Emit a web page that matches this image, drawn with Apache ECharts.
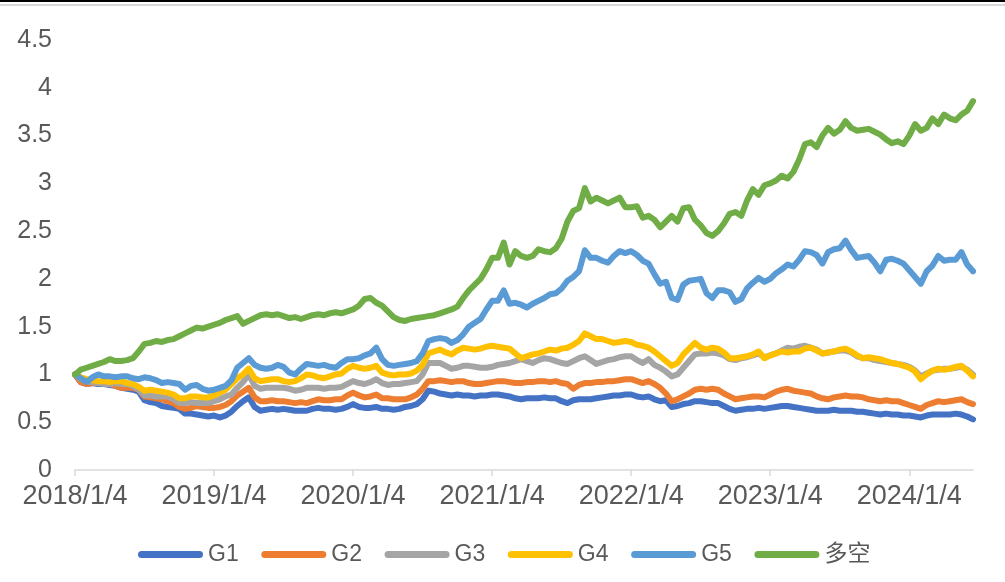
<!DOCTYPE html>
<html>
<head>
<meta charset="utf-8">
<script src="https://cdn.jsdelivr.net/npm/echarts@6/dist/echarts.min.js"></script>
<style>html,body{margin:0;padding:0;background:#fff;}#c{width:1005px;height:582px;}</style>
</head>
<body>
<div id="c"></div>
<script>
const dates = [
"2018/1/4","2018/1/18","2018/2/4","2018/2/18","2018/3/4","2018/3/18","2018/4/4","2018/4/18","2018/5/4","2018/5/18","2018/6/4","2018/6/18","2018/7/4","2018/7/18","2018/8/4","2018/8/18","2018/9/4","2018/9/18","2018/10/4","2018/10/18","2018/11/4","2018/11/18","2018/12/4","2018/12/18",
"2019/1/4","2019/1/18","2019/2/4","2019/2/18","2019/3/4","2019/3/18","2019/4/4","2019/4/18","2019/5/4","2019/5/18","2019/6/4","2019/6/18","2019/7/4","2019/7/18","2019/8/4","2019/8/18","2019/9/4","2019/9/18","2019/10/4","2019/10/18","2019/11/4","2019/11/18","2019/12/4","2019/12/18",
"2020/1/4","2020/1/18","2020/2/4","2020/2/18","2020/3/4","2020/3/18","2020/4/4","2020/4/18","2020/5/4","2020/5/18","2020/6/4","2020/6/18","2020/7/4","2020/7/18","2020/8/4","2020/8/18","2020/9/4","2020/9/18","2020/10/4","2020/10/18","2020/11/4","2020/11/18","2020/12/4","2020/12/18",
"2021/1/4","2021/1/18","2021/2/4","2021/2/18","2021/3/4","2021/3/18","2021/4/4","2021/4/18","2021/5/4","2021/5/18","2021/6/4","2021/6/18","2021/7/4","2021/7/18","2021/8/4","2021/8/18","2021/9/4","2021/9/18","2021/10/4","2021/10/18","2021/11/4","2021/11/18","2021/12/4","2021/12/18",
"2022/1/4","2022/1/18","2022/2/4","2022/2/18","2022/3/4","2022/3/18","2022/4/4","2022/4/18","2022/5/4","2022/5/18","2022/6/4","2022/6/18","2022/7/4","2022/7/18","2022/8/4","2022/8/18","2022/9/4","2022/9/18","2022/10/4","2022/10/18","2022/11/4","2022/11/18","2022/12/4","2022/12/18",
"2023/1/4","2023/1/18","2023/2/4","2023/2/18","2023/3/4","2023/3/18","2023/4/4","2023/4/18","2023/5/4","2023/5/18","2023/6/4","2023/6/18","2023/7/4","2023/7/18","2023/8/4","2023/8/18","2023/9/4","2023/9/18","2023/10/4","2023/10/18","2023/11/4","2023/11/18","2023/12/4","2023/12/18",
"2024/1/4","2024/1/18","2024/2/4","2024/2/18","2024/3/4","2024/3/18","2024/4/4","2024/4/18","2024/5/4","2024/5/18","2024/6/4","2024/6/18"
];
const seriesNames = ["G1","G2","G3","G4","G5","多空"];
const g1 = [1.00,0.92,0.90,0.91,0.90,0.90,0.89,0.88,0.86,0.85,0.84,0.82,0.73,0.71,0.70,0.67,0.66,0.65,0.64,0.59,0.59,0.58,0.57,0.56,
0.57,0.55,0.57,0.61,0.67,0.72,0.76,0.66,0.62,0.63,0.64,0.63,0.64,0.63,0.62,0.62,0.62,0.64,0.65,0.64,0.64,0.63,0.64,0.66,
0.69,0.66,0.65,0.65,0.66,0.64,0.64,0.63,0.64,0.66,0.67,0.69,0.74,0.83,0.82,0.80,0.79,0.78,0.79,0.78,0.78,0.77,0.78,0.78,
0.79,0.79,0.78,0.77,0.75,0.74,0.75,0.75,0.75,0.76,0.75,0.75,0.72,0.70,0.73,0.74,0.74,0.74,0.75,0.76,0.77,0.78,0.78,0.79,
0.79,0.77,0.76,0.77,0.74,0.72,0.73,0.66,0.67,0.69,0.70,0.72,0.72,0.71,0.70,0.70,0.67,0.64,0.62,0.63,0.64,0.64,0.65,0.64,
0.65,0.66,0.67,0.67,0.66,0.65,0.64,0.63,0.62,0.62,0.62,0.63,0.62,0.62,0.62,0.61,0.61,0.60,0.59,0.58,0.59,0.58,0.58,0.57,
0.57,0.56,0.55,0.57,0.58,0.58,0.58,0.58,0.59,0.58,0.56,0.53];
const g2 = [1.00,0.92,0.90,0.91,0.91,0.91,0.90,0.88,0.86,0.86,0.86,0.84,0.77,0.76,0.75,0.74,0.72,0.70,0.66,0.64,0.65,0.67,0.66,0.65,
0.65,0.66,0.68,0.72,0.78,0.82,0.86,0.76,0.72,0.72,0.73,0.72,0.72,0.71,0.70,0.71,0.70,0.72,0.74,0.73,0.73,0.74,0.74,0.78,
0.81,0.78,0.76,0.77,0.79,0.75,0.75,0.74,0.74,0.74,0.76,0.79,0.85,0.93,0.93,0.94,0.93,0.92,0.93,0.93,0.91,0.90,0.90,0.91,
0.92,0.93,0.93,0.92,0.91,0.91,0.92,0.92,0.93,0.93,0.92,0.93,0.91,0.90,0.85,0.89,0.91,0.91,0.92,0.92,0.93,0.93,0.94,0.95,
0.95,0.93,0.91,0.93,0.90,0.86,0.80,0.72,0.74,0.77,0.80,0.84,0.85,0.84,0.85,0.84,0.80,0.77,0.74,0.75,0.76,0.77,0.77,0.76,
0.79,0.82,0.84,0.85,0.83,0.82,0.81,0.80,0.77,0.75,0.74,0.76,0.77,0.78,0.77,0.77,0.76,0.74,0.73,0.72,0.73,0.72,0.72,0.70,
0.68,0.66,0.64,0.68,0.70,0.72,0.71,0.72,0.73,0.74,0.71,0.69];
const g3 = [1.00,0.95,0.93,0.92,0.91,0.90,0.90,0.91,0.90,0.90,0.88,0.84,0.78,0.78,0.77,0.77,0.77,0.74,0.70,0.70,0.71,0.70,0.70,0.70,
0.72,0.74,0.77,0.79,0.86,0.92,1.00,0.88,0.85,0.86,0.86,0.86,0.86,0.85,0.83,0.84,0.86,0.86,0.86,0.85,0.86,0.86,0.87,0.90,
0.93,0.91,0.90,0.92,0.95,0.91,0.89,0.90,0.90,0.91,0.92,0.93,1.00,1.12,1.12,1.12,1.09,1.06,1.07,1.09,1.09,1.08,1.07,1.07,
1.08,1.10,1.11,1.12,1.14,1.16,1.14,1.12,1.15,1.17,1.16,1.14,1.12,1.11,1.14,1.17,1.19,1.15,1.11,1.13,1.15,1.16,1.18,1.19,
1.19,1.15,1.12,1.16,1.10,1.07,1.03,0.98,1.00,1.07,1.14,1.21,1.22,1.22,1.23,1.22,1.20,1.16,1.15,1.17,1.18,1.20,1.22,1.18,
1.20,1.22,1.25,1.28,1.27,1.29,1.30,1.28,1.26,1.22,1.23,1.24,1.25,1.25,1.23,1.19,1.17,1.17,1.15,1.14,1.13,1.12,1.11,1.10,
1.08,1.04,0.98,1.01,1.04,1.05,1.06,1.06,1.07,1.08,1.05,1.00];
const g4 = [1.00,0.97,0.95,0.94,0.93,0.93,0.92,0.93,0.93,0.91,0.90,0.87,0.83,0.84,0.83,0.82,0.81,0.79,0.75,0.75,0.77,0.77,0.76,0.76,
0.78,0.81,0.84,0.90,0.96,1.00,1.06,0.96,0.93,0.94,0.95,0.95,0.93,0.92,0.93,0.96,1.00,0.99,0.97,0.96,0.98,1.00,1.01,1.06,
1.09,1.07,1.06,1.07,1.09,1.02,1.00,0.99,1.00,1.00,1.01,1.04,1.10,1.22,1.24,1.26,1.23,1.21,1.25,1.28,1.27,1.26,1.27,1.29,
1.30,1.29,1.28,1.27,1.22,1.17,1.19,1.21,1.22,1.24,1.26,1.25,1.27,1.28,1.31,1.35,1.43,1.40,1.37,1.37,1.35,1.33,1.34,1.35,
1.34,1.31,1.30,1.28,1.24,1.19,1.14,1.09,1.12,1.21,1.27,1.33,1.28,1.26,1.28,1.27,1.23,1.17,1.17,1.18,1.19,1.21,1.24,1.17,
1.20,1.22,1.24,1.23,1.24,1.24,1.27,1.28,1.25,1.22,1.23,1.24,1.26,1.27,1.24,1.20,1.17,1.18,1.17,1.16,1.14,1.12,1.11,1.09,
1.07,1.03,0.95,1.00,1.04,1.06,1.05,1.06,1.08,1.09,1.04,0.98];
const g5 = [1.00,0.96,0.92,0.97,1.00,0.98,0.98,0.97,0.98,0.98,0.96,0.95,0.97,0.96,0.94,0.91,0.92,0.91,0.90,0.84,0.88,0.89,0.85,0.83,
0.84,0.86,0.88,0.94,1.07,1.12,1.17,1.10,1.07,1.06,1.07,1.10,1.08,1.02,1.00,1.06,1.11,1.10,1.09,1.10,1.08,1.07,1.12,1.16,
1.16,1.17,1.20,1.22,1.28,1.16,1.10,1.09,1.10,1.11,1.12,1.14,1.22,1.35,1.37,1.38,1.37,1.33,1.36,1.42,1.50,1.54,1.58,1.68,
1.77,1.77,1.88,1.74,1.75,1.73,1.70,1.74,1.77,1.80,1.84,1.85,1.90,1.98,2.02,2.08,2.30,2.22,2.22,2.19,2.17,2.24,2.29,2.27,
2.29,2.25,2.19,2.16,2.05,1.95,1.97,1.80,1.78,1.94,1.98,1.99,2.00,1.85,1.80,1.88,1.88,1.86,1.76,1.79,1.90,1.96,2.01,1.97,
2.00,2.06,2.10,2.15,2.13,2.20,2.29,2.28,2.25,2.16,2.28,2.31,2.32,2.40,2.30,2.22,2.23,2.24,2.17,2.08,2.20,2.21,2.19,2.16,
2.09,2.02,1.95,2.08,2.14,2.24,2.19,2.20,2.20,2.28,2.15,2.08];
const longShort = [1.00,1.05,1.07,1.09,1.11,1.13,1.16,1.14,1.14,1.15,1.17,1.24,1.32,1.33,1.35,1.34,1.36,1.37,1.40,1.43,1.46,1.49,1.48,1.50,
1.52,1.54,1.57,1.59,1.61,1.53,1.56,1.59,1.62,1.63,1.62,1.63,1.61,1.59,1.60,1.58,1.60,1.62,1.63,1.62,1.64,1.65,1.64,1.66,
1.68,1.72,1.79,1.80,1.75,1.72,1.66,1.60,1.57,1.56,1.58,1.59,1.60,1.61,1.62,1.64,1.66,1.68,1.71,1.80,1.88,1.94,2.00,2.10,
2.22,2.22,2.38,2.15,2.29,2.24,2.22,2.24,2.31,2.29,2.28,2.32,2.42,2.60,2.71,2.74,2.95,2.81,2.85,2.82,2.79,2.82,2.85,2.75,
2.75,2.76,2.64,2.66,2.62,2.54,2.60,2.66,2.60,2.74,2.75,2.62,2.56,2.48,2.45,2.50,2.58,2.68,2.70,2.66,2.82,2.94,2.88,2.98,
3.00,3.03,3.08,3.05,3.12,3.25,3.41,3.43,3.38,3.50,3.58,3.52,3.56,3.65,3.58,3.55,3.56,3.57,3.54,3.51,3.46,3.42,3.44,3.41,
3.50,3.62,3.55,3.58,3.68,3.62,3.72,3.68,3.66,3.72,3.76,3.86];
const colors = ["#4472C4","#ED7D31","#A5A5A5","#FFC000","#5B9BD5","#70AD47"];
const yTicks = {min: 0, max: 4.5, interval: 0.5};
const labelEvery = 24;

const allData = [g1, g2, g3, g4, g5, longShort];
const chart = echarts.init(document.getElementById('c'), null, {renderer: 'canvas'});
const capsule = 'path://M3.5,0 L61.5,0 A3.5,3.5 0 0 1 61.5,7 L3.5,7 A3.5,3.5 0 0 1 3.5,0 Z';
chart.setOption({
  animation: false,
  backgroundColor: '#ffffff',
  color: colors,
  graphic: [
    {type: 'rect', left: 0, top: 0, shape: {width: 1005, height: 2}, style: {fill: '#000000'}},
    {type: 'rect', left: 0, top: 4, shape: {width: 1005, height: 2}, style: {fill: '#D9D9D9'}}
  ],
  grid: {left: 75, right: 32, top: 40, bottom: 112, containLabel: false},
  legend: {
    left: 138, top: 543, padding: 0,
    itemWidth: 65, itemHeight: 7, itemGap: 22.6,
    icon: capsule,
    data: seriesNames.map(n => ({name: n, icon: capsule})),
    textStyle: {color: '#595959', fontSize: 23, width: 31, fontFamily: "'Liberation Sans','Noto Sans CJK SC',sans-serif"}
  },
  xAxis: {
    type: 'category',
    data: dates,
    boundaryGap: false,
    axisLine: {lineStyle: {color: '#D9D9D9', width: 1.5}},
    axisTick: {show: true, length: 6, lineStyle: {color: '#D9D9D9', width: 1.5}, interval: (i) => i % labelEvery === 0},
    axisLabel: {interval: (i) => i % labelEvery === 0, color: '#595959', fontSize: 27, margin: 13, fontFamily: "'Liberation Sans',sans-serif"},
    splitLine: {show: false}
  },
  yAxis: {
    type: 'value',
    min: yTicks.min, max: yTicks.max, interval: yTicks.interval,
    axisLine: {show: false}, axisTick: {show: false}, splitLine: {show: false},
    axisLabel: {color: '#595959', fontSize: 25, margin: 23, fontFamily: "'Liberation Sans',sans-serif"}
  },
  series: seriesNames.map((n, k) => ({
    name: n, type: 'line', data: allData[k],
    showSymbol: false, symbol: 'none',
    lineStyle: {width: 6, color: colors[k], cap: 'round', join: 'round'},
    itemStyle: {color: colors[k]}
  }))
});
</script>
</body>
</html>
